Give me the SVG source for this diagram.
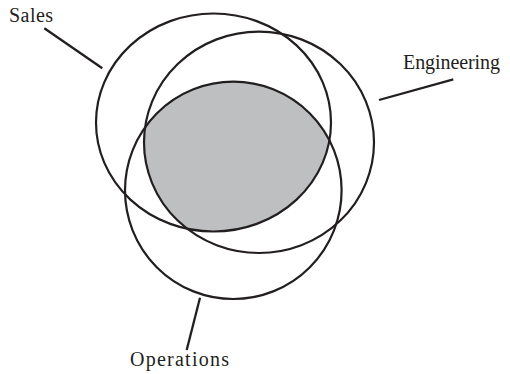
<svg xmlns="http://www.w3.org/2000/svg" width="510" height="374" viewBox="0 0 510 374">
<style>
.c{fill:none;stroke:#231f20;stroke-width:2.2}
.l{stroke:#231f20;stroke-width:2.3;fill:none}
.t{font-family:"Liberation Serif","DejaVu Serif",serif;font-size:20px;fill:#231f20}
</style>
<defs>
<clipPath id="cs"><ellipse cx="213.5" cy="122.5" rx="117.5" ry="109"/></clipPath>
<clipPath id="ce"><ellipse cx="259" cy="142.3" rx="115" ry="110.7"/></clipPath>
</defs>
<g id="overlap">
<g clip-path="url(#cs)"><g clip-path="url(#ce)"><ellipse cx="233.3" cy="190.3" rx="108.3" ry="108.7" fill="#bebfc1"/></g></g>
</g>
<g id="sales"><ellipse class="c" cx="213.5" cy="122.5" rx="117.5" ry="109"/><text class="t" x="9" y="22" textLength="44" lengthAdjust="spacing">Sales</text></g>
<g id="engineering"><ellipse class="c" cx="259" cy="142.3" rx="115" ry="110.7"/><text class="t" x="403" y="69" textLength="97" lengthAdjust="spacing">Engineering</text></g>
<g id="operations"><ellipse class="c" cx="233.3" cy="190.3" rx="108.3" ry="108.7"/><text class="t" x="130" y="366" textLength="99" lengthAdjust="spacing">Operations</text></g>
<g id="connectors">
<line class="l" x1="44.3" y1="28.3" x2="102.3" y2="68.3"/>
<line class="l" x1="453.3" y1="79.3" x2="379" y2="100"/>
<line class="l" x1="200" y1="297.7" x2="186.7" y2="350"/>
</g>
</svg>
